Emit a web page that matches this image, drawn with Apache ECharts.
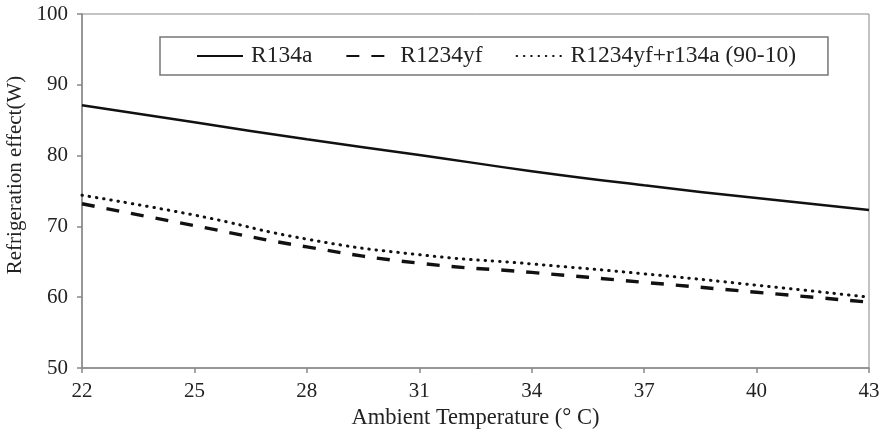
<!DOCTYPE html>
<html>
<head>
<meta charset="utf-8">
<script src="https://cdn.jsdelivr.net/npm/echarts@6/dist/echarts.min.js"></script>
<style>html,body{margin:0;padding:0;background:#fff;}#c{width:880px;height:438px;}</style>
</head>
<body>
<div id="c"></div>
<script>
const temperatures = ['22', '25', '28', '31', '34', '37', '40', '43'];
const r134a = [87.1, 84.7, 82.3, 80.1, 77.8, 75.8, 74.0, 72.3];
const r1234yf = [73.2, 70.1, 67.1, 64.8, 63.5, 62.1, 60.7, 59.3];
const blend = [74.4, 71.6, 68.2, 66.0, 64.7, 63.3, 61.7, 60.0];
const seriesNames = ['R134a', 'R1234yf', 'R1234yf+r134a (90-10)'];
const yTicks = { min: 50, max: 100, interval: 10 };

const chart = echarts.init(document.getElementById('c'), null, { renderer: 'canvas' });
const font = 'Liberation Serif';
const axisColor = '#888';
chart.setOption({
  animation: false,
  backgroundColor: '#fff',
  grid: { left: 82, right: 11, top: 14, bottom: 70, show: true, borderColor: axisColor, borderWidth: 1,
          containLabel: false, outerBoundsMode: 'none' },
  legend: {
    left: 160, top: 37,
    padding: [7, 32, 7, 36],
    itemGap: 33,
    itemWidth: 46, itemHeight: 14,
    borderColor: '#777', borderWidth: 1.5,
    itemStyle: { opacity: 0 },
    textStyle: { fontFamily: font, fontSize: 23.5, color: '#222', padding: [0, 0, 0, 3] },
    data: seriesNames
  },
  xAxis: {
    type: 'category',
    data: temperatures,
    boundaryGap: false,
    name: 'Ambient Temperature (° C)',
    nameLocation: 'middle',
    nameGap: 35,
    nameTextStyle: { fontFamily: font, fontSize: 22.5, color: '#222' },
    axisLine: { lineStyle: { color: axisColor, width: 1.5 } },
    axisTick: { show: true, length: 5, lineStyle: { color: axisColor, width: 1.5 } },
    axisLabel: { fontFamily: font, fontSize: 21, color: '#222', margin: 13 },
    splitLine: { show: false }
  },
  yAxis: {
    type: 'value',
    min: yTicks.min, max: yTicks.max, interval: yTicks.interval,
    name: 'Refrigeration effect(W)',
    nameLocation: 'middle',
    nameGap: 50,
    nameTextStyle: { fontFamily: font, fontSize: 21, color: '#222', padding: [0, 0, 0, 32] },
    axisLine: { show: true, lineStyle: { color: axisColor, width: 1.5 } },
    axisTick: { show: true, length: 5, lineStyle: { color: axisColor, width: 1.5 } },
    axisLabel: { fontFamily: font, fontSize: 21, color: '#222', margin: 14 },
    splitLine: { show: false }
  },
  series: [
    { name: seriesNames[0], type: 'line', data: r134a, smooth: true, symbol: 'none',
      lineStyle: { color: '#111', width: 2.5, type: 'solid' }, itemStyle: { color: '#111' } },
    { name: seriesNames[1], type: 'line', data: r1234yf, smooth: true, symbol: 'none',
      lineStyle: { color: '#111', width: 3.4, type: [13, 12] }, itemStyle: { color: '#111' } },
    { name: seriesNames[2], type: 'line', data: blend, smooth: true, symbol: 'none',
      lineStyle: { color: '#111', width: 3, type: [0.5, 6.8], cap: 'round' }, itemStyle: { color: '#111' } }
  ]
});
</script>
</body>
</html>
